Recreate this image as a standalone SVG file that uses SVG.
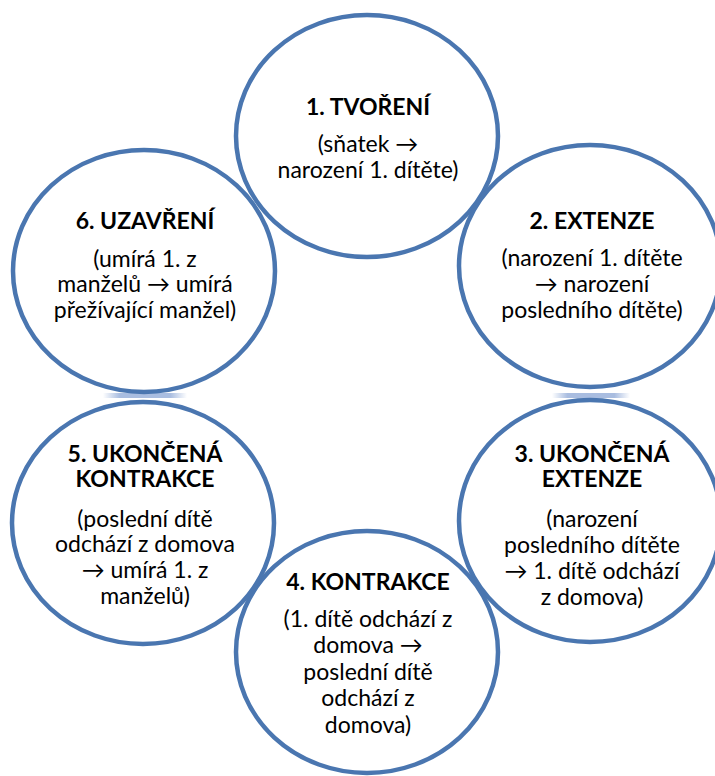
<svg xmlns="http://www.w3.org/2000/svg" width="715" height="776" viewBox="0 0 715 776">
  <defs>
    <linearGradient id="bar" x1="0" y1="0" x2="1" y2="0">
      <stop offset="0" stop-color="#a9bde0" stop-opacity="0"/>
      <stop offset="0.2" stop-color="#a9bde0" stop-opacity="1"/>
      <stop offset="0.8" stop-color="#a9bde0" stop-opacity="1"/>
      <stop offset="1" stop-color="#a9bde0" stop-opacity="0"/>
    </linearGradient>
  </defs>
  <style>
    .ring { fill: none; stroke: #4a76b0; stroke-width: 4.5; }
    text { font-family: Lato, "Liberation Sans", sans-serif; font-size: 23px; fill: #000; text-anchor: middle; }
    .t { font-weight: bold; }
  </style>
  <rect width="715" height="776" fill="#ffffff"/>
  <g id="connectors">
    <rect x="552" y="393" width="78" height="5" fill="url(#bar)"/>
    <rect x="103" y="393" width="84" height="5" fill="url(#bar)"/>
  </g>
  <g id="node1">
    <ellipse class="ring" cx="367" cy="136" rx="131" ry="121"/>
    <text class="t" x="368" y="115">1. TVOŘENÍ</text>
    <text x="368" y="152">(sňatek →</text>
    <text x="368" y="178">narození 1. dítěte)</text>
  </g>
  <g id="node2">
    <ellipse class="ring" cx="590" cy="266" rx="131" ry="121"/>
    <text class="t" x="592" y="229">2. EXTENZE</text>
    <text x="592" y="266">(narození 1. dítěte</text>
    <text x="592" y="292">→ narození</text>
    <text x="592" y="318">posledního dítěte)</text>
  </g>
  <g id="node3">
    <ellipse class="ring" cx="590" cy="521" rx="131" ry="121"/>
    <text class="t" x="592" y="462">3. UKONČENÁ</text>
    <text class="t" x="592" y="487">EXTENZE</text>
    <text x="592" y="527">(narození</text>
    <text x="592" y="553">posledního dítěte</text>
    <text x="592" y="579">→ 1. dítě odchází</text>
    <text x="592" y="605">z domova)</text>
  </g>
  <g id="node4">
    <ellipse class="ring" cx="367" cy="652" rx="131" ry="121"/>
    <text class="t" x="368" y="590">4. KONTRAKCE</text>
    <text x="368" y="627">(1. dítě odchází z</text>
    <text x="368" y="653">domova →</text>
    <text x="368" y="680">poslední dítě</text>
    <text x="368" y="706">odchází z</text>
    <text x="368" y="733">domova)</text>
  </g>
  <g id="node5">
    <ellipse class="ring" cx="143" cy="523" rx="131" ry="121"/>
    <text class="t" x="145" y="462">5. UKONČENÁ</text>
    <text class="t" x="145" y="487">KONTRAKCE</text>
    <text x="145" y="527">(poslední dítě</text>
    <text x="145" y="552">odchází z domova</text>
    <text x="145" y="578">→ umírá 1. z</text>
    <text x="145" y="604">manželů)</text>
  </g>
  <g id="node6">
    <ellipse class="ring" cx="144" cy="271" rx="131" ry="121"/>
    <text class="t" x="145" y="229">6. UZAVŘENÍ</text>
    <text x="145" y="267">(umírá 1. z</text>
    <text x="145" y="292">manželů → umírá</text>
    <text x="145" y="318">přežívající manžel)</text>
  </g>
</svg>
